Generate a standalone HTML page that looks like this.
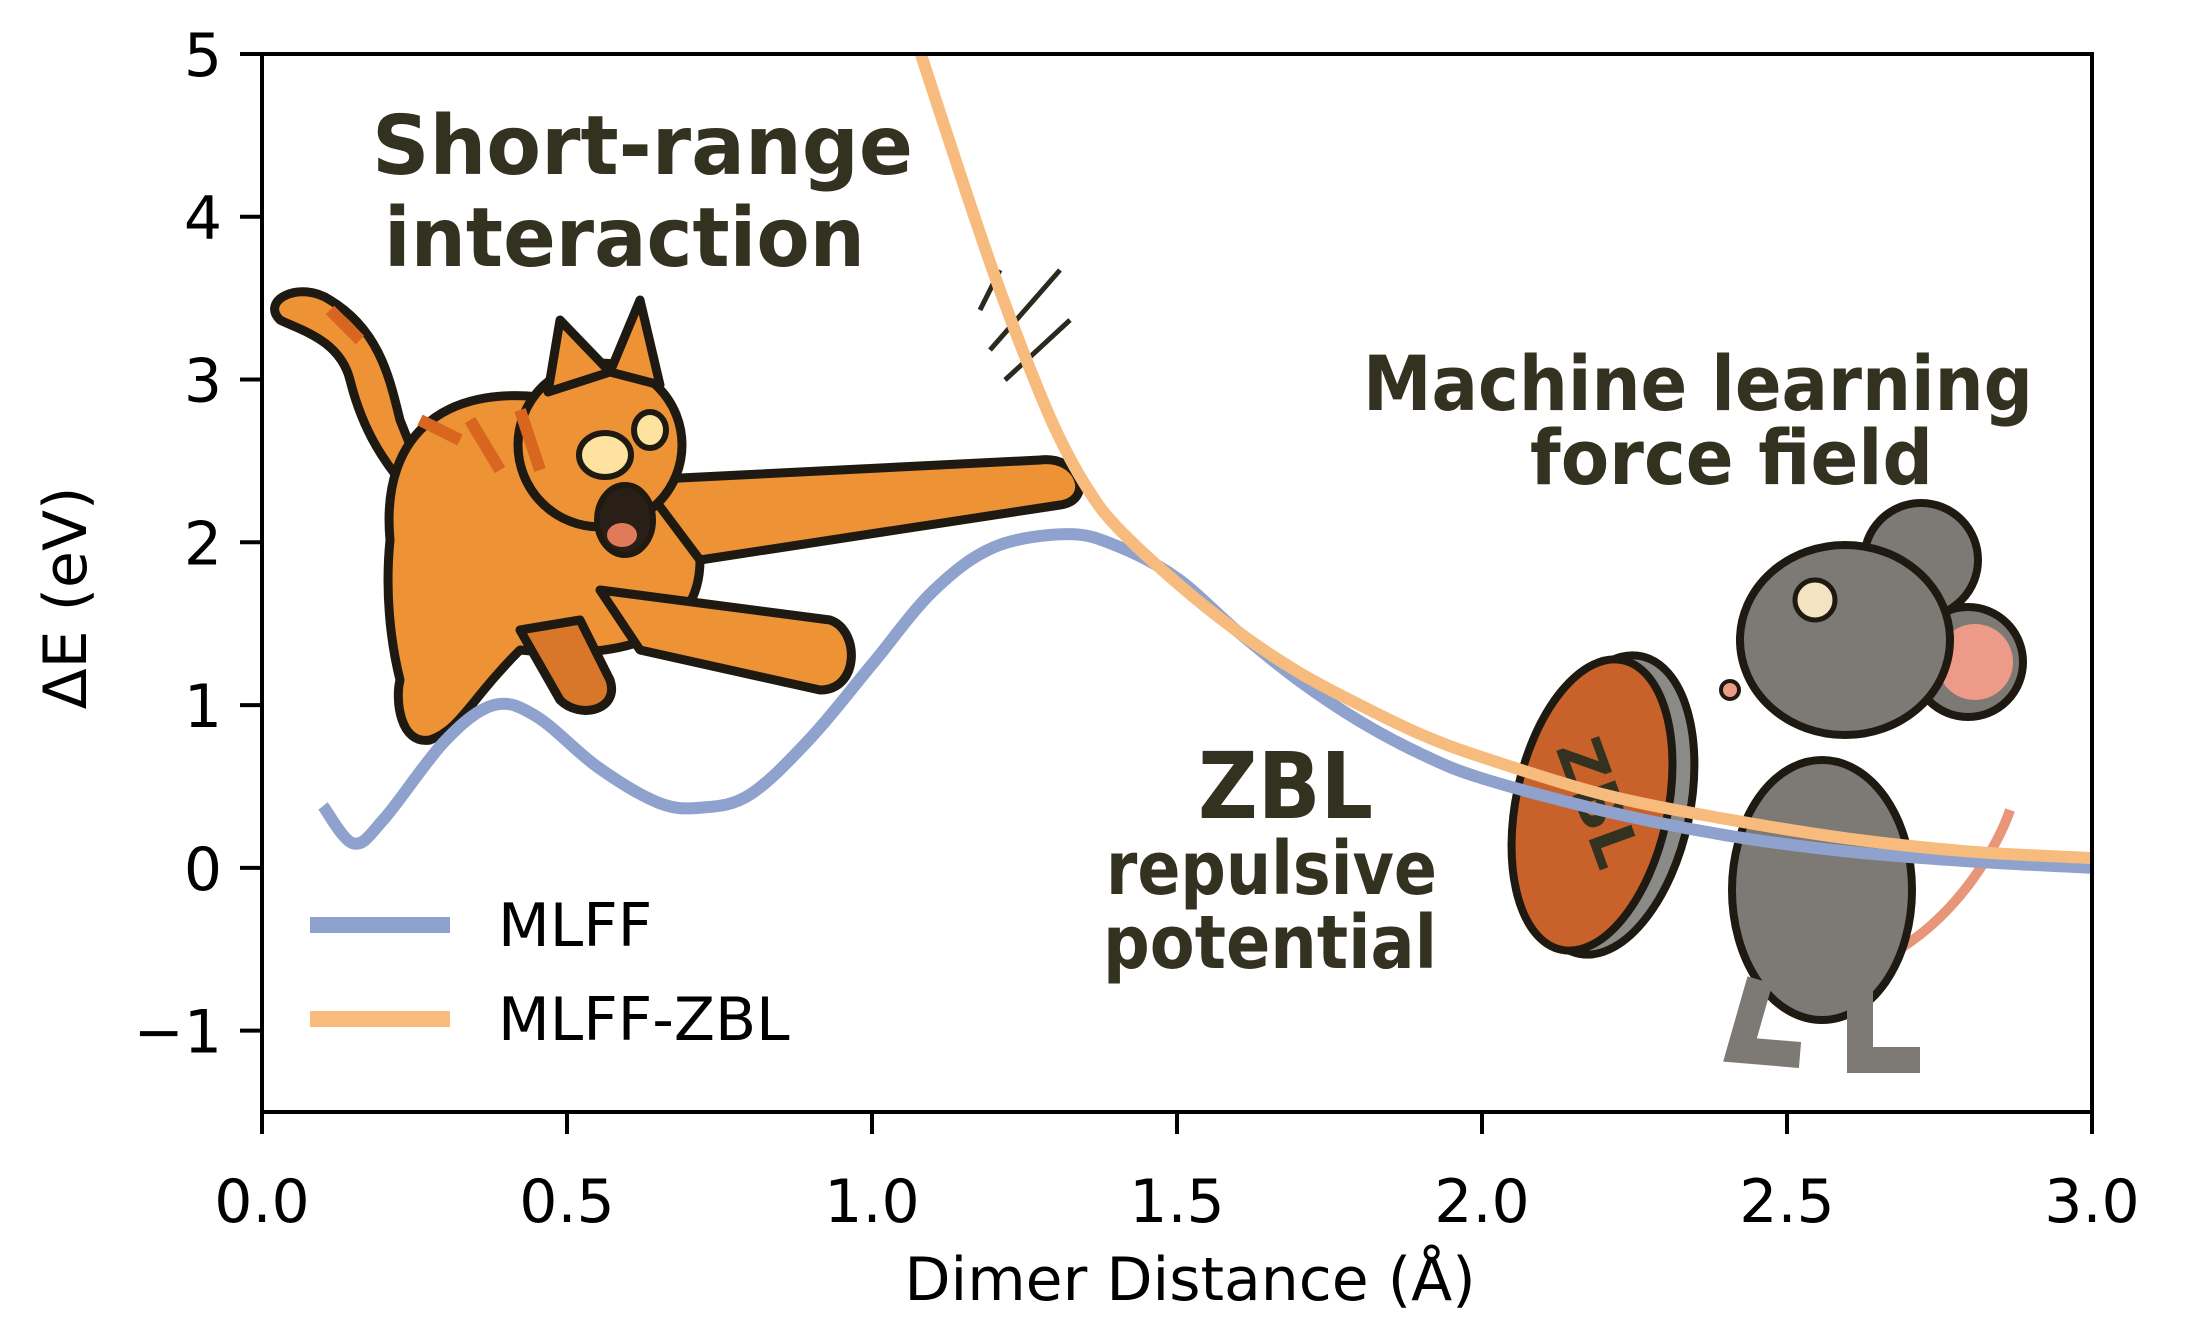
<!DOCTYPE html>
<html><head><meta charset="utf-8"><style>
html,body{margin:0;padding:0;background:#fff}
svg{display:block}
.tk{font-family:"DejaVu Sans","Liberation Sans",sans-serif;font-size:60px;fill:#000}
.ann{font-family:"DejaVu Sans","Liberation Sans",sans-serif;font-weight:bold;fill:#33311f}
</style></head><body>
<svg id="chart" width="2206" height="1320" viewBox="0 0 2206 1320">
<defs><clipPath id="plotclip"><rect x="262" y="54" width="1830" height="1058"/></clipPath></defs>
<g id="illus">
 <g stroke="#1e1a12" stroke-width="9" stroke-linejoin="round">
  <path d="M440 520 C380 470 360 420 350 380 C340 340 300 330 280 320 C260 300 300 280 330 300 C380 330 390 380 400 420 Z" fill="#ee9236"/>
  <path d="M390 540 C380 430 450 380 560 400 C650 420 700 480 700 560 C700 640 620 660 520 650 C470 700 460 730 430 740 C400 745 395 700 400 680 C390 640 385 590 390 540 Z" fill="#ee9236"/>
  <path d="M640 480 L1040 460 C1080 455 1095 500 1060 505 L700 560 Z" fill="#ee9236"/>
  <path d="M600 590 L830 620 C860 630 860 690 820 690 L640 650 Z" fill="#ee9236"/>
  <path d="M520 630 L560 700 C580 720 620 710 610 680 L580 620 Z" fill="#d8772a"/>
  <circle cx="600" cy="445" r="82" fill="#ee9236"/>
  <path d="M548 392 L560 320 L610 372 Z" fill="#ee9236"/>
  <path d="M610 372 L640 300 L660 385 Z" fill="#ee9236"/>
  <ellipse cx="605" cy="455" rx="26" ry="22" fill="#fde2a0" stroke-width="6"/>
  <ellipse cx="650" cy="430" rx="16" ry="18" fill="#fde2a0" stroke-width="6"/>
  <ellipse cx="625" cy="520" rx="28" ry="35" fill="#2a1f17" stroke-width="6"/>
  <ellipse cx="622" cy="535" rx="15" ry="12" fill="#e07a5a" stroke="none"/>
  <path d="M330 310 L360 340 M420 420 L460 440 M470 420 L500 470 M520 410 L540 470" stroke="#d8661f" stroke-width="12" fill="none"/>
  <path d="M980 310 L1000 270 M990 350 L1060 270 M1005 380 L1070 320" stroke="#2a2a1f" stroke-width="5" fill="none"/>
 </g>
 <g stroke="#1e1a12" stroke-width="8">
  <path d="M1880 960 C1960 920 2000 840 2010 810" fill="none" stroke="#e8967a" stroke-width="10"/>
  <ellipse cx="1822" cy="890" rx="90" ry="130" fill="#7d7a76"/>
  <path d="M1760 980 L1740 1050 L1800 1055 M1860 990 L1860 1060 L1920 1060" fill="none" stroke-width="26" stroke="#7d7a76"/>
  <circle cx="1921" cy="560" r="57" fill="#7d7a76"/>
  <circle cx="1968" cy="662" r="55" fill="#7d7a76"/>
  <circle cx="1975" cy="662" r="38" fill="#ee9a88" stroke="none"/>
  <ellipse cx="1845" cy="640" rx="105" ry="95" fill="#7d7a76"/>
  <circle cx="1815" cy="600" r="20" fill="#f3e3c0" stroke-width="5"/>
  <circle cx="1730" cy="690" r="9" fill="#ee9a88" stroke-width="4"/>
  <ellipse cx="1610" cy="805" rx="80" ry="152" fill="#8a8a86" transform="rotate(12 1610 805)"/>
  <ellipse cx="1592" cy="805" rx="76" ry="148" fill="#c8612a" transform="rotate(12 1592 805)"/>
  <text x="1592" y="820" text-anchor="middle" class="ann" font-size="62" stroke="none" fill="#1e1a12" transform="rotate(70 1592 805)">ZBL</text>
 </g>
</g>
<g id="series" clip-path="url(#plotclip)"></g>
<g id="legend">
 <line x1="310" y1="925" x2="450" y2="925" stroke="#8ea2cd" stroke-width="16"/>
 <text x="498" y="946" class="tk">MLFF</text>
 <line x1="310" y1="1019" x2="450" y2="1019" stroke="#f7bc7d" stroke-width="16"/>
 <text x="498" y="1040" class="tk">MLFF-ZBL</text>
</g>
<g>
 <text x="372" y="174" textLength="541" lengthAdjust="spacingAndGlyphs" class="ann" font-size="82">Short-range</text>
 <text x="384" y="266" textLength="481" lengthAdjust="spacingAndGlyphs" class="ann" font-size="82">interaction</text>
 <text x="1363" y="410" textLength="670" lengthAdjust="spacingAndGlyphs" class="ann" font-size="76">Machine learning</text>
 <text x="1530" y="484" textLength="403" lengthAdjust="spacingAndGlyphs" class="ann" font-size="76">force field</text>
 <text x="1198" y="818" textLength="175" lengthAdjust="spacingAndGlyphs" class="ann" font-size="92">ZBL</text>
 <text x="1106" y="894" textLength="331" lengthAdjust="spacingAndGlyphs" class="ann" font-size="74">repulsive</text>
 <text x="1103" y="968" textLength="334" lengthAdjust="spacingAndGlyphs" class="ann" font-size="74">potential</text>
</g>
<rect x="262" y="54" width="1830" height="1058" fill="none" stroke="#000" stroke-width="4"/>
<g id="axes"></g>
<text x="1190" y="1300" text-anchor="middle" class="tk">Dimer Distance (Å)</text>
<text x="0" y="0" text-anchor="middle" class="tk" transform="translate(86 598) rotate(-90)">ΔE (eV)</text>
</svg>
<script>
const xTicks=[0,0.5,1,1.5,2,2.5,3];
const xTickLabels=["0.0","0.5","1.0","1.5","2.0","2.5","3.0"];
const yTicks=[-1,0,1,2,3,4,5];
const yTickLabels=["−1","0","1","2","3","4","5"];
const mlffX=[0.1,0.15,0.2,0.3,0.38,0.45,0.55,0.65,0.72,0.8,0.9,1.0,1.1,1.2,1.32,1.4,1.5,1.6,1.7,1.8,1.9,2.0,2.2,2.4,2.6,2.8,3.0];
const mlffY=[0.38,0.15,0.3,0.78,1.0,0.93,0.62,0.4,0.37,0.45,0.8,1.25,1.7,1.97,2.05,1.98,1.78,1.45,1.15,0.9,0.7,0.55,0.35,0.2,0.1,0.04,0.0];
const zblX=[1.08,1.15,1.2,1.25,1.3,1.35,1.4,1.5,1.6,1.7,1.8,1.9,2.0,2.2,2.4,2.6,2.8,3.0];
const zblY=[5.0,4.2,3.65,3.15,2.7,2.35,2.1,1.75,1.45,1.2,1.0,0.82,0.68,0.45,0.3,0.18,0.1,0.06];
const X0=262,X1=2092,Y0=1112,Y1=54,xmin=0,xmax=3,ymin=-1.5,ymax=5;
const sx=v=>X0+(v-xmin)/(xmax-xmin)*(X1-X0);
const sy=v=>Y0-(v-ymin)/(ymax-ymin)*(Y0-Y1);
const NS="http://www.w3.org/2000/svg";
function pathFor(xs,ys){
 const p=xs.map((x,i)=>[sx(x),sy(ys[i])]);
 let d="M"+p[0][0]+" "+p[0][1];
 for(let i=0;i<p.length-1;i++){
  const a=p[Math.max(0,i-1)],b=p[i],c=p[i+1],e=p[Math.min(p.length-1,i+2)];
  d+=" C"+(b[0]+(c[0]-a[0])/6)+" "+(b[1]+(c[1]-a[1])/6)+" "+(c[0]-(e[0]-b[0])/6)+" "+(c[1]-(e[1]-b[1])/6)+" "+c[0]+" "+c[1];
 }
 return d;
}
const g=document.getElementById('series');
const l1=document.createElementNS(NS,'path');
l1.setAttribute('d',pathFor(mlffX,mlffY));
l1.setAttribute('fill','none');l1.setAttribute('stroke','#8ea2cd');l1.setAttribute('stroke-width','12');


g.appendChild(l1);
const l2=document.createElementNS(NS,'path');
l2.setAttribute('d',pathFor(zblX,zblY));
l2.setAttribute('fill','none');l2.setAttribute('stroke','#f7bc7d');l2.setAttribute('stroke-width','12');


g.appendChild(l2);
const ax=document.getElementById('axes');
xTicks.forEach((t,i)=>{
 const ln=document.createElementNS(NS,'line');
 ln.setAttribute('x1',sx(t));ln.setAttribute('x2',sx(t));ln.setAttribute('y1',Y0);ln.setAttribute('y2',Y0+22);
 ln.setAttribute('stroke','#000');ln.setAttribute('stroke-width','4');
 
 
 ax.appendChild(ln);
 const tx=document.createElementNS(NS,'text');
 tx.setAttribute('x',sx(t));tx.setAttribute('y',1222);tx.setAttribute('text-anchor','middle');tx.setAttribute('class','tk');
 tx.textContent=xTickLabels[i];
 
 
 ax.appendChild(tx);
});
yTicks.forEach((t,i)=>{
 const ln=document.createElementNS(NS,'line');
 ln.setAttribute('x1',X0-22);ln.setAttribute('x2',X0);ln.setAttribute('y1',sy(t));ln.setAttribute('y2',sy(t));
 ln.setAttribute('stroke','#000');ln.setAttribute('stroke-width','4');
 
 
 ax.appendChild(ln);
 const tx=document.createElementNS(NS,'text');
 tx.setAttribute('x',222);tx.setAttribute('y',sy(t)+22);tx.setAttribute('text-anchor','end');tx.setAttribute('class','tk');
 tx.textContent=yTickLabels[i];
 
 
 ax.appendChild(tx);
});
</script>
</body></html>
